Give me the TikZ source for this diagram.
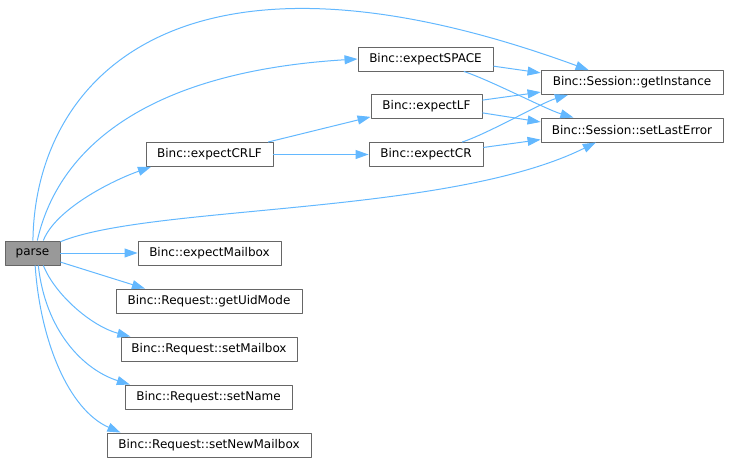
\documentclass[tikz,border=0pt]{standalone}
\usepackage{fontspec}
\setmainfont{DejaVu Sans}
\usetikzlibrary{arrows.meta}
\definecolor{edgeblue}{HTML}{63B8FF}
\definecolor{boxgray}{HTML}{666666}
\definecolor{parsegray}{HTML}{999999}
\begin{document}
\begin{tikzpicture}[x=1pt, y=-1pt, font=\fontsize{12}{14}\selectfont, line join=round,
	fn/.style={draw=boxgray, line width=0.9pt, fill=white, minimum height=24pt, inner sep=0pt},
	call/.style={draw=edgeblue, line width=1pt, -{Triangle[length=13pt,width=9pt,fill=edgeblue]}}]
	\useasboundingbox (0,0) rectangle (729,463);
	\node[fn, fill=parsegray, minimum width=55pt] (parse) at (32.5,253) {parse};
	\foreach \n/\x/\y/\w/\t in {CRLF/209.5/154.5/127/expectCRLF, SPACE/425.5/59/135/expectSPACE,
		LF/426.5/106/111/expectLF, CR/426/154.5/114/expectCR,
		Inst/632/82.5/182/Session::getInstance, Err/632/130/182/Session::setLastError,
		Mailbox/209.5/253/143/expectMailbox, Uid/209/301/186/Request::getUidMode,
		Mbox/209/349/176/Request::setMailbox, Name/208.5/397/167/Request::setName,
		NewMbox/209/445/204/Request::setNewMailbox}
		\node[fn, minimum width=\w pt] (\n) at (\x,\y) {Binc::\t};
	% calls from parse
	\draw[call] (parse.88) .. controls +(2,-161) and +(-410,-150) .. (Inst.164);
	\draw[call] (parse.69) .. controls +(23,-101) and +(-198,12) .. (SPACE.west);
	\draw[call] (parse.49) .. controls +(12,-31) and +(-40,14) .. (CRLF.192);
	\draw[call] (parse.22) .. controls +(90,-37) and +(-147,73) .. (Err.199);
	\draw[call] (parse.east) -- (Mailbox.west);
	\draw[call] (parse.-18) -- (Uid.169);
	\draw[call] (parse.-49) .. controls +(12,30) and +(-38,-10) .. (Mbox.171);
	\draw[call] (parse.-65) .. controls +(7,65) and +(-47,-15) .. (Name.171);
	\draw[call] (parse.-78) .. controls +(5,75) and +(-52,-23) .. (NewMbox.172);
	% second level
	\draw[call] (CRLF.12) -- (LF.191);
	\draw[call] (CRLF.east) -- (CR.west);
	\draw[call] (SPACE.-6) -- (Inst.174);
	\draw[call] (SPACE.-18) .. controls +(27,9) and +(-27,-8) .. (Err.168);
	\draw[call] (LF.6) -- (Inst.186);
	\draw[call] (LF.-7) -- (Err.175);
	\draw[call] (CR.19) .. controls +(27,-9) and +(-27,8) .. (Inst.191);
	\draw[call] (CR.7) -- (Err.186);
\end{tikzpicture}
\end{document}
